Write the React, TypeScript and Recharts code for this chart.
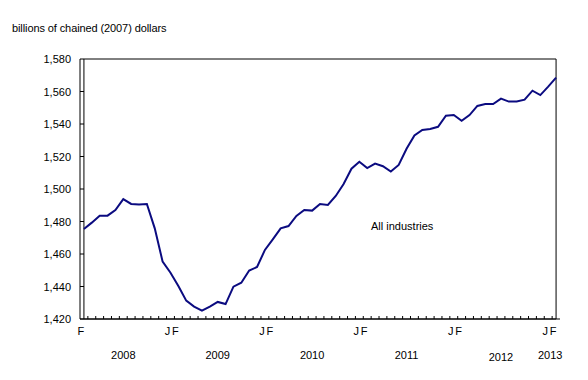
import React from 'react';
import { LineChart, Line, XAxis, YAxis, ReferenceArea } from 'recharts';

const months = [
  '2008-02','2008-03','2008-04','2008-05','2008-06','2008-07','2008-08','2008-09','2008-10','2008-11','2008-12',
  '2009-01','2009-02','2009-03','2009-04','2009-05','2009-06','2009-07','2009-08','2009-09','2009-10','2009-11','2009-12',
  '2010-01','2010-02','2010-03','2010-04','2010-05','2010-06','2010-07','2010-08','2010-09','2010-10','2010-11','2010-12',
  '2011-01','2011-02','2011-03','2011-04','2011-05','2011-06','2011-07','2011-08','2011-09','2011-10','2011-11','2011-12',
  '2012-01','2012-02','2012-03','2012-04','2012-05','2012-06','2012-07','2012-08','2012-09','2012-10','2012-11','2012-12',
  '2013-01','2013-02',
];

const monthLetters = [
  'F','','','','','','','','','','',
  'J','F','','','','','','','','','','',
  'J','F','','','','','','','','','','',
  'J','F','','','','','','','','','','',
  'J','F','','','','','','','','','','',
  'J','F',
];

const yearLabels = [
  '','','','','','2008','','','','','',
  '','','','','','','2009','','','','','',
  '','','','','','','2010','','','','','',
  '','','','','','','2011','','','','','',
  '','','','','','','2012','','','','','',
  '2013','',
];

const allIndustries = [
  1475.4, 1479.3, 1483.6, 1483.6, 1487.1, 1493.8, 1490.8, 1490.4, 1490.8, 1475.8, 1455.3,
  1448.5, 1440.3, 1431.3, 1427.6, 1425.1, 1427.6, 1430.5, 1429.2, 1439.9, 1442.3, 1449.8, 1452.0,
  1462.5, 1469.0, 1475.8, 1477.2, 1483.4, 1487.1, 1486.7, 1490.8, 1490.2, 1495.7, 1503.1, 1512.5,
  1516.8, 1512.9, 1515.6, 1514.0, 1510.7, 1514.8, 1524.8, 1533.0, 1536.3, 1536.9, 1538.3, 1545.1,
  1545.5, 1542.0, 1545.5, 1551.1, 1552.3, 1552.3, 1555.6, 1553.8, 1553.8, 1555.0, 1560.5, 1557.8,
  1563.0, 1568.5,
];

const yTicks = [1420, 1440, 1460, 1480, 1500, 1520, 1540, 1560, 1580];

const unitLabel = 'billions of chained (2007) dollars';
const seriesLabel = 'All industries';

const data = months.map((m, i) => ({ month: m, value: allIndustries[i] }));

const FONT = '"Liberation Sans", Arial, sans-serif';
const CHART_W = 572;
const CHART_H = 364;
const MARGIN = { top: 51, right: 20, bottom: 0, left: 0 };
const Y_AXIS_W = 72;
const PLOT_W = CHART_W - MARGIN.left - MARGIN.right - Y_AXIS_W;
const BAND = PLOT_W / months.length;

const YTick = (props: any) => {
  const { x, y, payload } = props;
  return (
    <g>
      <line x1={x} x2={x + 4} y1={y} y2={y} stroke="#000" strokeWidth={1} />
      <text x={x - 9} y={y} dy={4} textAnchor="end" fontFamily={FONT} fontSize={11} fill="#000">
        {Number(payload.value).toLocaleString('en-US')}
      </text>
    </g>
  );
};

const XTick = (props: any) => {
  const { x, y, payload } = props;
  const i = payload.index ?? props.index ?? 0;
  const letter = monthLetters[i];
  const year = yearLabels[i];
  const left = x - BAND / 2;
  const isLast = i === months.length - 1;
  return (
    <g>
      {i > 0 && <line x1={left} x2={left} y1={y} y2={y - 3} stroke="#000" strokeWidth={1} />}
      {letter && (
        <text x={x - 3} y={y} dy={16} textAnchor="middle" fontFamily={FONT} fontSize={11} fill="#000">
          {letter}
        </text>
      )}
      {year && (
        <text x={x + (i === months.length - 2 ? 2 : 0)} y={y} dy={i === months.length - 8 ? 42 : 40} textAnchor="middle" fontFamily={FONT} fontSize={11} fill="#000">
          {year}
        </text>
      )}
    </g>
  );
};

export default function App() {
  return (
    <div style={{ position: 'relative', width: CHART_W, height: CHART_H, fontFamily: FONT }}>
      <div style={{ position: 'absolute', left: 4, top: 14, fontSize: 11, lineHeight: '13px', color: '#000', whiteSpace: 'nowrap', letterSpacing: '-0.1px' }}>
        {unitLabel}
      </div>
      <div style={{ position: 'absolute', left: 363, top: 212, fontSize: 11, lineHeight: '13px', color: '#000', whiteSpace: 'nowrap' }}>
        {seriesLabel}
      </div>
      <LineChart width={CHART_W} height={CHART_H} data={data} margin={MARGIN}>
        <ReferenceArea y1={1420} y2={1580} fill="none" stroke="#000" strokeWidth={1} fillOpacity={0} />
        <XAxis
          dataKey="month"
          type="category"
          interval={0}
          height={53}
          padding={{ left: BAND / 2, right: BAND / 2 }}
          tickSize={0}
          tickMargin={0}
          tickLine={false}
          axisLine={{ stroke: '#000', strokeWidth: 1 }}
          tick={<XTick />}
        />
        <YAxis
          domain={[1420, 1580]}
          ticks={yTicks}
          width={Y_AXIS_W}
          tickSize={0}
          tickMargin={0}
          tickLine={false}
          axisLine={{ stroke: '#000', strokeWidth: 1 }}
          tick={<YTick />}
          interval={0}
        />
        <Line
          type="linear"
          dataKey="value"
          stroke="#0b0b80"
          strokeWidth={2}
          dot={false}
          isAnimationActive={false}
        />
      </LineChart>
    </div>
  );
}
